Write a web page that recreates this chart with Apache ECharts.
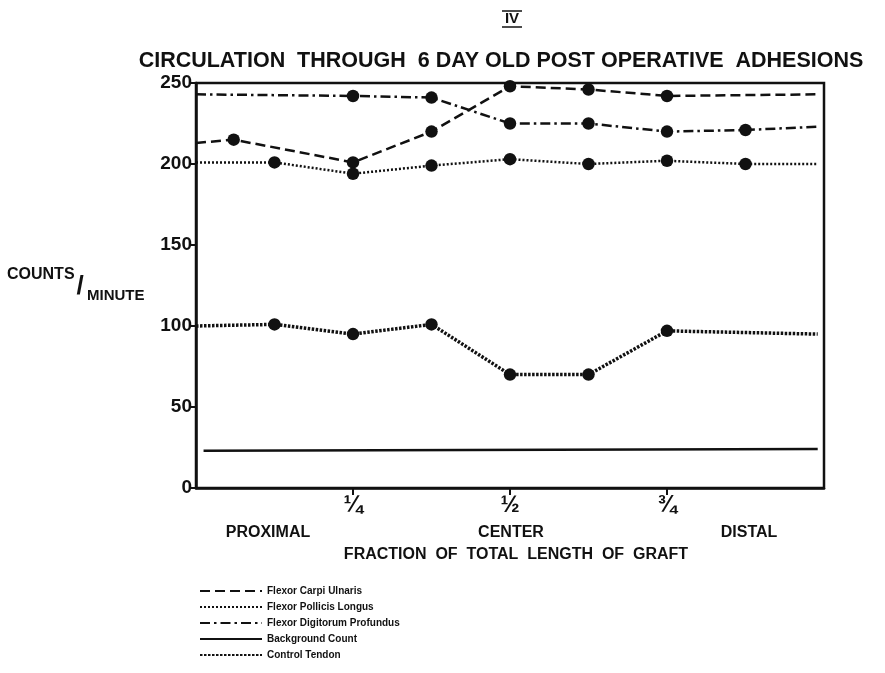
<!DOCTYPE html>
<html>
<head>
<meta charset="utf-8">
<script src="https://cdn.jsdelivr.net/npm/echarts@6/dist/echarts.min.js"></script>
<style>
  html, body { margin: 0; padding: 0; background: #fff; }
  #chart { width: 885px; height: 673px; }
</style>
</head>
<body>
<div id="chart"></div>
<script>
// fraction of graft length (x) and counts/minute (y)
const fcuX = [0, 0.06, 0.25, 0.375, 0.5, 0.625, 0.75, 0.99]
const fcuY = [213, 215, 201, 220, 248, 246, 242, 243]
const fplX = [0, 0.125, 0.25, 0.375, 0.5, 0.625, 0.75, 0.875, 0.99]
const fplY = [201, 201, 194, 199, 203, 200, 202, 200, 200]
const fdpX = [0, 0.25, 0.375, 0.5, 0.625, 0.75, 0.875, 0.99]
const fdpY = [243, 242, 241, 225, 225, 220, 221, 223]
const bgX = [0.012, 0.99]
const bgY = [23, 24]
const ctlX = [0, 0.125, 0.25, 0.375, 0.5, 0.625, 0.75, 0.99]
const ctlY = [100, 101, 95, 101, 70, 70, 97, 95]

const seriesNames = ['Flexor Carpi Ulnaris', 'Flexor Pollicis Longus', 'Flexor Digitorum Profundus', 'Background Count', 'Control Tendon']
const yTicks = [0, 50, 100, 150, 200, 250]
const fractionLabels = { 0.25: '¼', 0.5: '½', 0.75: '¾' }

const ink = '#111'
const font = '"Liberation Sans", Arial, sans-serif'

// end points sit on the frame and carry no dot
function toData(xs, ys) {
  return xs.map((x, i) => ({
    value: [x, ys[i]],
    symbol: (i === 0 || i === xs.length - 1) ? 'none' : 'circle'
  }))
}

function lineSeries(name, xs, ys, width, dash) {
  return {
    name: name,
    type: 'line',
    data: toData(xs, ys),
    symbolSize: 12.5,
    itemStyle: { color: ink },
    lineStyle: { color: ink, width: width, type: dash, cap: 'butt' },
    animation: false
  }
}

const chart = echarts.init(document.getElementById('chart'))

chart.setOption({
  backgroundColor: '#fff',
  grid: {
    left: 196,
    top: 83,
    width: 628,
    height: 405,
    show: true,
    borderColor: ink,
    borderWidth: 2.5
  },
  legend: {
    orient: 'vertical',
    left: 194,
    top: 581,
    itemWidth: 62,
    itemHeight: 10,
    itemGap: 6,
    data: seriesNames,
    itemStyle: { opacity: 0 },
    textStyle: { color: ink, fontFamily: font, fontWeight: 'bold', fontSize: 10 }
  },
  xAxis: {
    type: 'value',
    min: 0,
    max: 1,
    interval: 0.25,
    splitLine: { show: false },
    axisLine: { lineStyle: { color: ink, width: 2.5 } },
    axisTick: { customValues: [0.25, 0.5, 0.75], length: 7, lineStyle: { color: ink, width: 2 } },
    axisLabel: {
      margin: 6,
      color: ink,
      fontFamily: font,
      fontWeight: 'bold',
      fontSize: 23,
      formatter: v => fractionLabels[v] || ''
    }
  },
  yAxis: {
    type: 'value',
    min: 0,
    max: 250,
    interval: 50,
    splitLine: { show: false },
    axisLine: { show: true, lineStyle: { color: ink, width: 2.5 } },
    axisTick: { show: true, length: 5, lineStyle: { color: ink, width: 2 } },
    axisLabel: {
      margin: 4,
      color: ink,
      fontFamily: font,
      fontWeight: 'bold',
      fontSize: 19,
      formatter: v => yTicks.indexOf(v) >= 0 ? String(v) : ''
    }
  },
  graphic: [
    { type: 'text', x: 512, y: 19, style: { text: 'IV', fill: ink, font: 'bold 15px ' + font, align: 'center', verticalAlign: 'middle' } },
    { type: 'line', shape: { x1: 502, y1: 11, x2: 522, y2: 11 }, style: { stroke: ink, lineWidth: 1.5 } },
    { type: 'line', shape: { x1: 502, y1: 27, x2: 522, y2: 27 }, style: { stroke: ink, lineWidth: 1.5 } },
    { type: 'text', x: 501, y: 61, style: { text: 'CIRCULATION  THROUGH  6 DAY OLD POST OPERATIVE  ADHESIONS', fill: ink, font: 'bold 21.5px ' + font, align: 'center', verticalAlign: 'middle' } },
    { type: 'text', x: 7, y: 275, style: { text: 'COUNTS', fill: ink, font: 'bold 16px ' + font, align: 'left', verticalAlign: 'middle' } },
    { type: 'text', x: 80, y: 287, style: { text: '/', fill: ink, font: 'bold 26px ' + font, align: 'center', verticalAlign: 'middle' } },
    { type: 'text', x: 87, y: 296, style: { text: 'MINUTE', fill: ink, font: 'bold 15px ' + font, align: 'left', verticalAlign: 'middle' } },
    { type: 'text', x: 268, y: 533, style: { text: 'PROXIMAL', fill: ink, font: 'bold 16px ' + font, align: 'center', verticalAlign: 'middle' } },
    { type: 'text', x: 511, y: 533, style: { text: 'CENTER', fill: ink, font: 'bold 16px ' + font, align: 'center', verticalAlign: 'middle' } },
    { type: 'text', x: 749, y: 533, style: { text: 'DISTAL', fill: ink, font: 'bold 16px ' + font, align: 'center', verticalAlign: 'middle' } },
    { type: 'text', x: 516, y: 555, style: { text: 'FRACTION  OF  TOTAL  LENGTH  OF  GRAFT', fill: ink, font: 'bold 16px ' + font, align: 'center', verticalAlign: 'middle' } }
  ],
  series: [
    lineSeries(seriesNames[0], fcuX, fcuY, 2.5, [10, 5]),
    lineSeries(seriesNames[1], fplX, fplY, 2.5, [2, 2]),
    lineSeries(seriesNames[2], fdpX, fdpY, 2.5, [10, 4, 2.5, 4]),
    lineSeries(seriesNames[3], bgX, bgY, 2.5, 'solid'),
    lineSeries(seriesNames[4], ctlX, ctlY, 3.5, [2.5, 1.5])
  ]
})
</script>
</body>
</html>
